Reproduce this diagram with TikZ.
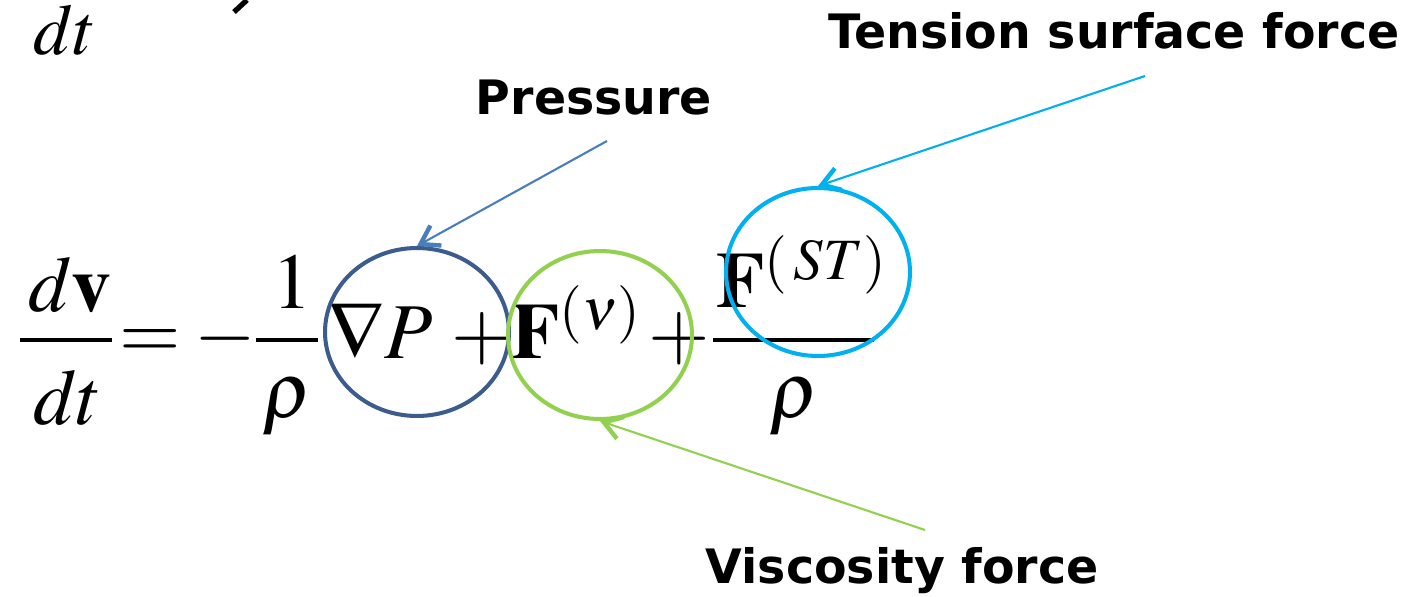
\documentclass[tikz,border=0pt]{standalone}
\usepackage{mathptmx}
\usepackage{fontspec}
\newfontfamily\labelfont{DejaVu Sans}
\usepackage{xcolor}
\definecolor{pressblue}{RGB}{59, 92, 140}
\definecolor{pressline}{RGB}{74, 126, 187}
\definecolor{viscgreen}{RGB}{146, 208, 80}
\definecolor{tensioncyan}{RGB}{0, 176, 240}
\usetikzlibrary{arrows.meta, positioning, shapes.geometric}

\begin{document}
\begin{tikzpicture}[x=0.02cm, y=-0.02cm]
  \tikzstyle{term} = [ellipse, draw, line width=2.3pt, inner sep=0pt, minimum width=3.68cm, minimum height=3.36cm]
  \tikzstyle{label} = [font=\labelfont\bfseries\fontsize{27}{32}\selectfont, inner sep=0pt, anchor=base]
  \tikzstyle{pointer} = [line width=1.2pt, -{Straight Barb[length=10pt, width=13pt, line width=2.5pt]}]
  \tikzstyle{eqn} = [font=\fontsize{45}{54}\selectfont, inner sep=0pt, anchor=base west]
  \tikzstyle{fracbar} = [line width=1.8pt]

  \useasboundingbox (0,0) rectangle (1408,597);

  % leftover of the line above
  \node [eqn, font=\fontsize{41}{50}\selectfont] (oldeq) at (33,55) {$dt$};
  \draw [line width=3pt] (247,0) -- (234,12);

  % the equation, piece by piece
  \node [eqn] (dvnum) at (28,312) {$d\mathbf{v}$};
  \node [eqn] (dvden) at (33,424) {$dt$};
  \draw [fracbar] (20,340) -- (112,340);
  \node [eqn] (eqsign) at (119,358) {$=$};
  \node [eqn] (minus) at (194,358) {$-$};
  \node [eqn] (one) at (272,309) {$1$};
  \node [eqn] (rhoone) at (262,418) {$\rho$};
  \draw [fracbar] (256,340) -- (318,340);
  \node [eqn] (gradP) at (328,358) {$\nabla P$};
  \node [eqn] (plusone) at (451,358) {$+$};
  \node [eqn] (fvisc) at (511,358) {$\mathbf{F}^{(\nu)}$};
  \node [eqn] (plustwo) at (648,358) {$+$};
  \node [eqn] (fst) at (716,308) {$\mathbf{F}^{(\mkern2mu ST)}$};
  \node [eqn] (rhotwo) at (769,418) {$\rho$};
  \draw [fracbar] (713,340) -- (874,340);

  % circled terms
  \node [term, draw=pressblue] (gradp) at (417,332) {};
  \node [term, draw=viscgreen] (visc) at (600,335) {};
  \node [term, draw=tensioncyan] (tension) at (818,272) {};

  % labels
  \node [label] (pressure) at (594,115) {Pressure};
  \node [label] (surface) at (1114,49) {Tension surface force};
  \node [label] (viscosity) at (902,583) {Viscosity force};

  \coordinate (pressure-tail) at (607,141);
  \coordinate (surface-tail) at (1145,76);
  \coordinate (viscosity-tail) at (925,530);

  \draw [pointer, pressline] (pressure-tail) -- (gradp.north);
  \draw [pointer, tensioncyan] (surface-tail) -- (tension.north);
  \draw [pointer, viscgreen] (viscosity-tail) -- (visc.south);
\end{tikzpicture}
\end{document}
